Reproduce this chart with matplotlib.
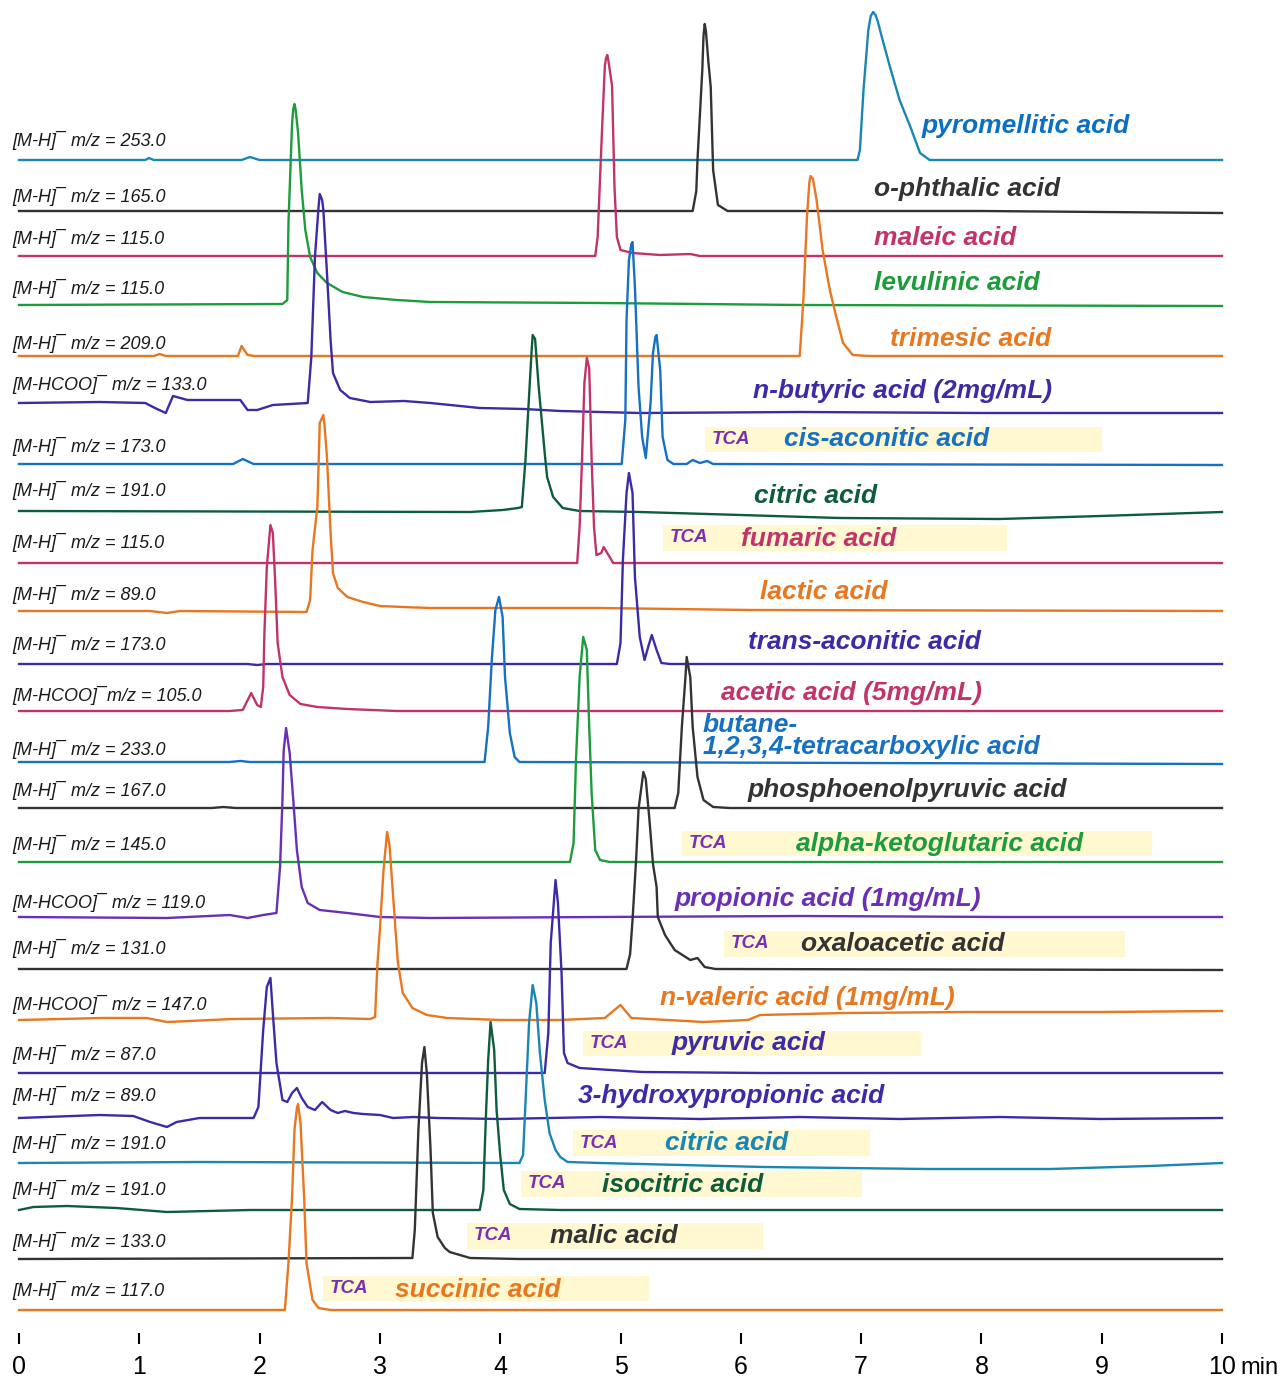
import matplotlib.pyplot as plt
from matplotlib.patches import Rectangle

plt.rcParams['font.family'] = ['Liberation Sans', 'DejaVu Sans']

# each trace: retention time (min) and intensity above its own baseline (a.u.)
pyromellitic_t = [0, 1.05, 1.08, 1.12, 1.85, 1.92, 2.0, 6.97, 6.99, 7.02, 7.06, 7.08, 7.10, 7.12, 7.14, 7.17, 7.24, 7.32, 7.41, 7.49, 7.57, 10]
pyromellitic_h = [0, 0, 2, 0, 0, 3, 0, 0, 10, 70, 130, 144, 148, 145, 138, 124, 93, 60, 33, 7, 0, 0]

phthalic_t = [0, 5.60, 5.63, 5.64, 5.68, 5.69, 5.70, 5.71, 5.73, 5.75, 5.77, 5.81, 5.89, 8.0, 10]
phthalic_h = [0, 0, 20, 51, 141, 175, 187, 180, 150, 124, 41, 6, 0, 0, -2]

maleic_t = [0, 4.79, 4.81, 4.85, 4.87, 4.88, 4.89, 4.90, 4.93, 4.95, 4.97, 5.00, 5.10, 5.33, 5.58, 5.66, 10]
maleic_h = [0, 0, 19, 136, 190, 198, 201, 195, 170, 69, 19, 6, 3, 1, 2, 0, 0]

levulinic_t = [0, 2.19, 2.23, 2.24, 2.27, 2.28, 2.29, 2.30, 2.32, 2.35, 2.38, 2.42, 2.48, 2.56, 2.69, 2.86, 3.14, 3.42, 4.83, 6.49, 10]
levulinic_h = [0, 1, 5, 82, 182, 196, 201, 195, 172, 115, 75, 48, 32, 22, 13, 8, 5, 3, 2, 0, -1]

trimesic_t = [0, 1.12, 1.17, 1.22, 1.82, 1.85, 1.90, 1.96, 6.49, 6.52, 6.55, 6.57, 6.58, 6.60, 6.63, 6.68, 6.74, 6.80, 6.85, 6.93, 7.07, 10]
trimesic_h = [0, 0, 2, 0, 0, 10, 1, 0, 0, 56, 139, 174, 180, 177, 156, 106, 66, 36, 13, 1, 0, 0]

butyric_t = [0, 0.67, 1.05, 1.13, 1.22, 1.28, 1.40, 1.84, 1.90, 1.98, 2.11, 2.40, 2.43, 2.46, 2.49, 2.50, 2.52, 2.53, 2.56,
             2.59, 2.61, 2.67, 2.75, 2.92, 3.2, 3.42, 3.83, 4.20, 4.50, 5.16, 6.5, 8.0, 10]
butyric_h = [0, 1, 0, -5, -10, 7, 3, 3, -7, -7, -2, 0, 46, 146, 196, 209, 203, 193, 130,
             63, 30, 13, 5, 1, 2, 0, -5, -6, -8, -10, -9, -10, -10]

cis_aconitic_t = [0, 1.78, 1.86, 1.95, 5.01, 5.04, 5.05, 5.07, 5.09, 5.10, 5.12, 5.15, 5.18, 5.21, 5.25, 5.27, 5.29, 5.30, 5.33,
                  5.35, 5.39, 5.44, 5.55, 5.60, 5.66, 5.72, 5.77, 10]
cis_aconitic_h = [0, 0, 5, 0, 0, 44, 144, 204, 220, 222, 177, 77, 27, 6, 61, 111, 127, 129, 94,
                  27, 4, 0, 0, 4, 1, 3, 0, -1]

citric_t = [0, 3.75, 4.02, 4.15, 4.18, 4.21, 4.26, 4.27, 4.29, 4.32, 4.37, 4.39, 4.44, 4.52, 4.66, 5.16, 6.0, 6.82, 8.15, 8.99, 10]
citric_h = [0, -1, 1, 3, 4, 51, 158, 176, 172, 124, 58, 34, 14, 3, 0, -1, -4, -7, -8, -5, -1]

fumaric_t = [0, 4.64, 4.66, 4.68, 4.70, 4.72, 4.74, 4.76, 4.78, 4.80, 4.84, 4.86, 4.90, 4.94, 10]
fumaric_h = [0, 0, 36, 103, 180, 205, 195, 103, 36, 8, 10, 16, 8, 0, 0]

lactic_t = [0, 1.09, 1.23, 1.34, 2.39, 2.42, 2.44, 2.48, 2.50, 2.53, 2.54, 2.56, 2.59, 2.61, 2.65, 2.73, 2.86,
            3.00, 3.19, 3.42, 4.83, 6.08, 10]
lactic_h = [0, 0, -2, 0, -1, 11, 61, 104, 188, 196, 185, 154, 78, 38, 23, 14, 9,
            5, 4, 3, 3, 1, 0]

trans_aconitic_t = [0, 1.90, 1.98, 2.06, 4.97, 5.00, 5.02, 5.05, 5.07, 5.10, 5.12, 5.16, 5.20, 5.23, 5.26, 5.30, 5.34, 5.41, 10]
trans_aconitic_h = [0, 0, -1, 0, 0, 21, 104, 171, 191, 171, 87, 27, 4, 17, 29, 14, 1, 0, 0]

acetic_t = [0, 1.75, 1.86, 1.93, 1.98, 2.01, 2.03, 2.04, 2.06, 2.09, 2.11, 2.13, 2.15, 2.19, 2.25, 2.34, 2.48, 2.73, 3.14, 10]
acetic_h = [0, 0, 1, 18, 6, 4, 24, 78, 144, 186, 178, 128, 68, 34, 16, 7, 4, 2, 0, 0]

butane_t = [0, 1.75, 1.84, 1.92, 3.87, 3.90, 3.93, 3.96, 3.99, 4.02, 4.04, 4.08, 4.12, 4.16, 10]
butane_h = [0, 0, 1, 0, 0, 35, 102, 152, 165, 145, 85, 29, 5, 0, -2]

pep_t = [0, 1.6, 1.7, 1.8, 5.45, 5.48, 5.51, 5.54, 5.55, 5.58, 5.60, 5.64, 5.69, 5.77, 5.91, 10]
pep_h = [0, 0, 1, 0, 0, 15, 81, 131, 151, 131, 81, 31, 8, 1, 0, 0]

akg_t = [0, 2.3, 4.58, 4.61, 4.63, 4.66, 4.69, 4.72, 4.74, 4.76, 4.79, 4.83, 4.91, 10]
akg_h = [0, 0, 0, 19, 102, 185, 225, 212, 135, 69, 12, 2, 0, 0]

propionic_t = [0, 1.23, 1.75, 1.90, 2.03, 2.14, 2.17, 2.19, 2.20, 2.22, 2.25, 2.28, 2.31, 2.35, 2.40, 2.50, 2.73,
               3.00, 3.42, 4.83, 6.5, 8.2, 10]
propionic_h = [-1, -2, 1, -2, 1, 3, 49, 116, 165, 188, 163, 116, 66, 29, 13, 6, 3,
               -1, -2, -1, 0, -1, -1]

oxaloacetic_t = [0, 5.05, 5.08, 5.10, 5.13, 5.15, 5.19, 5.21, 5.24, 5.27, 5.30, 5.31, 5.37, 5.45, 5.58, 5.64, 5.70, 5.79, 10]
oxaloacetic_h = [0, 0, 15, 49, 110, 160, 197, 190, 150, 105, 82, 52, 34, 19, 9, 11, 2, 0, -1]

valeric_t = [0, 0.69, 1.06, 1.23, 1.78, 2.59, 2.92, 2.96, 2.98, 3.00, 3.03, 3.06, 3.08, 3.13, 3.15, 3.19, 3.27,
             3.39, 3.56, 4.00, 4.50, 4.87, 5.00, 5.09, 5.69, 6.06, 6.16, 6.87, 7.89, 8.99, 10]
valeric_h = [0, 2, 2, -2, 1, 2, 1, 3, 57, 90, 150, 188, 175, 90, 57, 27, 12,
             5, 2, 0, 0, 2, 15, 2, -2, 0, 5, 7, 8, 8, 9]

pyruvic_t = [0, 4.37, 4.40, 4.42, 4.46, 4.48, 4.51, 4.53, 4.56, 4.66, 5.18, 6.19, 10]
pyruvic_h = [0, 0, 40, 130, 193, 170, 100, 20, 10, 5, 1, 0, 0]

hydroxypropionic_t = [0, 0.67, 0.95, 1.09, 1.23, 1.31, 1.50, 1.95, 1.99, 2.03, 2.06, 2.09, 2.11, 2.14, 2.19, 2.23,
                      2.27, 2.31, 2.35, 2.40, 2.46, 2.52, 2.59, 2.65, 2.71, 2.78, 2.86, 3.00, 3.11, 3.28, 3.48,
                      4.00, 4.83, 5.66, 6.49, 7.32, 8.15, 8.99, 10]
hydroxypropionic_h = [0, 3, 2, -4, -9, -4, 0, 0, 11, 88, 131, 140, 105, 55, 18, 16,
                      25, 30, 20, 11, 8, 16, 8, 5, 7, 5, 4, 3, 0, 1, 0,
                      -1, 1, -1, 1, -1, 1, -1, 0]

citric_tca_t = [0, 1.5, 4.16, 4.19, 4.21, 4.24, 4.27, 4.30, 4.33, 4.37, 4.41, 4.46, 4.50, 4.56, 4.83, 6.19, 7.55, 8.57, 9.40, 10]
citric_tca_h = [0, 1, 0, 8, 60, 140, 178, 160, 110, 63, 30, 13, 6, 1, 0, -4, -6, -6, -3, 0]

isocitric_t = [0, 0.12, 0.40, 0.81, 1.23, 1.92, 3.83, 3.86, 3.88, 3.90, 3.92, 3.95, 3.97, 4.00, 4.03, 4.08, 4.16, 4.50, 10]
isocitric_h = [0, 3, 4, 2, -2, 0, 0, 20, 90, 150, 188, 160, 100, 55, 20, 6, 1, 0, 0]

malic_t = [0, 3.27, 3.29, 3.32, 3.35, 3.37, 3.39, 3.42, 3.44, 3.48, 3.54, 3.58, 3.75, 4.16, 10]
malic_h = [0, 1, 29, 129, 196, 212, 186, 112, 46, 22, 11, 7, 1, 0, 0]

succinic_t = [0, 2.21, 2.24, 2.27, 2.29, 2.31, 2.32, 2.34, 2.37, 2.39, 2.44, 2.49, 2.59, 10]
succinic_h = [0, 0, 47, 113, 180, 202, 206, 187, 113, 47, 10, 2, 0, 0]

ion_labels = ['[M-H]¯ m/z = 253.0', '[M-H]¯ m/z = 165.0', '[M-H]¯ m/z = 115.0', '[M-H]¯ m/z = 115.0',
              '[M-H]¯ m/z = 209.0', '[M-HCOO]¯ m/z = 133.0', '[M-H]¯ m/z = 173.0', '[M-H]¯ m/z = 191.0',
              '[M-H]¯ m/z = 115.0', '[M-H]¯ m/z = 89.0', '[M-H]¯ m/z = 173.0', '[M-HCOO]¯m/z = 105.0',
              '[M-H]¯ m/z = 233.0', '[M-H]¯ m/z = 167.0', '[M-H]¯ m/z = 145.0', '[M-HCOO]¯ m/z = 119.0',
              '[M-H]¯ m/z = 131.0', '[M-HCOO]¯ m/z = 147.0', '[M-H]¯ m/z = 87.0', '[M-H]¯ m/z = 89.0',
              '[M-H]¯ m/z = 191.0', '[M-H]¯ m/z = 191.0', '[M-H]¯ m/z = 133.0', '[M-H]¯ m/z = 117.0']

compounds = ['pyromellitic acid', 'o-phthalic acid', 'maleic acid', 'levulinic acid', 'trimesic acid',
             'n-butyric acid (2mg/mL)', 'cis-aconitic acid', 'citric acid', 'fumaric acid', 'lactic acid',
             'trans-aconitic acid', 'acetic acid (5mg/mL)', 'butane-\n1,2,3,4-tetracarboxylic acid',
             'phosphoenolpyruvic acid', 'alpha-ketoglutaric acid', 'propionic acid (1mg/mL)', 'oxaloacetic acid',
             'n-valeric acid (1mg/mL)', 'pyruvic acid', '3-hydroxypropionic acid', 'citric acid',
             'isocitric acid', 'malic acid', 'succinic acid']

is_tca = [False, False, False, False, False, False, True, False, True, False, False, False,
          False, False, True, False, True, False, True, False, True, True, True, True]

traces = [(pyromellitic_t, pyromellitic_h), (phthalic_t, phthalic_h), (maleic_t, maleic_h),
          (levulinic_t, levulinic_h), (trimesic_t, trimesic_h), (butyric_t, butyric_h),
          (cis_aconitic_t, cis_aconitic_h), (citric_t, citric_h), (fumaric_t, fumaric_h),
          (lactic_t, lactic_h), (trans_aconitic_t, trans_aconitic_h), (acetic_t, acetic_h),
          (butane_t, butane_h), (pep_t, pep_h), (akg_t, akg_h), (propionic_t, propionic_h),
          (oxaloacetic_t, oxaloacetic_h), (valeric_t, valeric_h), (pyruvic_t, pyruvic_h),
          (hydroxypropionic_t, hydroxypropionic_h), (citric_tca_t, citric_tca_h),
          (isocitric_t, isocitric_h), (malic_t, malic_h), (succinic_t, succinic_h)]

# colours
TEAL, BLACK, CRIMSON, GREEN, ORANGE = '#1a86b2', '#333333', '#c2336c', '#1c9c3c', '#e8771f'
INDIGO, VIOLET, BLUE, DKGREEN = '#3d2aa6', '#6a2fb4', '#1670c4', '#0d5c3b'
line_colors = [TEAL, BLACK, CRIMSON, GREEN, ORANGE, INDIGO, BLUE, DKGREEN, CRIMSON, ORANGE, INDIGO, CRIMSON,
               BLUE, BLACK, GREEN, VIOLET, BLACK, ORANGE, INDIGO, INDIGO, TEAL, DKGREEN, BLACK, ORANGE]
name_colors = list(line_colors)
name_colors[0] = '#0b6fc2'
TCA_COLOR = '#7b2fb0'
BOX_COLOR = '#fff8d0'

# layout (pixel positions of the original figure)
baseline_px = [160, 211, 256, 305, 356, 403, 464, 511, 563, 611, 664, 711,
               762, 808, 862, 916, 969, 1020, 1073, 1118, 1163, 1210, 1259, 1310]
ion_label_y = [140, 196, 238, 288, 343, 384, 446, 490, 542, 594, 644, 695,
               749, 790, 844, 902, 948, 1004, 1054, 1095, 1143, 1189, 1241, 1290]
name_pos = [(922, 126), (874, 189), (874, 238), (874, 283), (890, 339), (753, 391), (784, 439), (754, 496),
            (741, 539), (760, 592), (748, 642), (721, 693), (703, 736), (748, 790), (796, 844), (675, 899),
            (801, 944), (660, 998), (672, 1043), (578, 1096), (665, 1143), (602, 1185), (550, 1236), (395, 1290)]
tca_boxes = {6: (705, 1102, 427, 452), 8: (663, 1007, 525, 551), 14: (682, 1152, 831, 856),
             16: (724, 1125, 931, 957), 18: (583, 921, 1031, 1056), 20: (573, 870, 1130, 1156),
             21: (521, 862, 1171, 1197), 22: (467, 763, 1223, 1249), 23: (323, 649, 1276, 1301)}

PX_PER_MIN = 120.3
X0 = 19
AX_BOTTOM = 1333


def tx(px):
    return (px - X0) / PX_PER_MIN


def ty(py):
    return AX_BOTTOM - py


fig = plt.figure(figsize=(12.82, 13.77), dpi=100)
ax = fig.add_axes([0, (1377 - AX_BOTTOM) / 1377, 1, AX_BOTTOM / 1377])
ax.set_xlim(tx(0), tx(1282))
ax.set_ylim(0, AX_BOTTOM)

for i, (t, h) in enumerate(traces):
    base = ty(baseline_px[i])
    ax.plot(t, [base + v for v in h], color=line_colors[i], lw=1.7, solid_joinstyle='round', zorder=3)

    ax.text(tx(12), ty(ion_label_y[i]), ion_labels[i], style='italic', fontsize=13,
            color='#1a1a1a', va='center', ha='left')

    nx, ny = name_pos[i]
    ax.text(tx(nx), ty(ny), compounds[i], style='italic', weight='bold', fontsize=19,
            color=name_colors[i], va='center', ha='left', linespacing=0.85, zorder=4)

    if is_tca[i]:
        x0, x1, y0, y1 = tca_boxes[i]
        ax.add_patch(Rectangle((tx(x0), ty(y1)), tx(x1) - tx(x0), y1 - y0,
                               facecolor=BOX_COLOR, edgecolor='none', zorder=1))
        ax.text(tx(x0 + 7), ty((y0 + y1) / 2), 'TCA', style='italic', weight='bold', fontsize=13.5,
                color=TCA_COLOR, va='center', ha='left', zorder=4)

for s in ax.spines.values():
    s.set_visible(False)
ax.set_yticks([])
ax.set_xticks(range(11))
ax.set_xticklabels([str(i) for i in range(11)])
ax.tick_params(axis='x', direction='out', length=8, width=1.5, pad=8, labelsize=18, colors='black')
ax.text(tx(1279), ty(1368), 'min', fontsize=17, va='center', ha='right', clip_on=False)

fig.savefig('out.png', dpi=100)
